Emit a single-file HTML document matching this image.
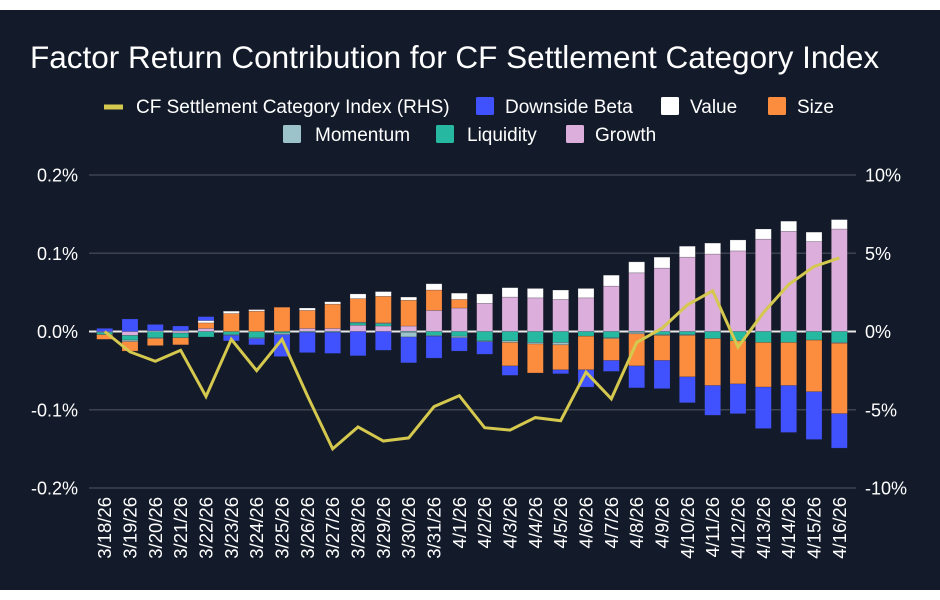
<!DOCTYPE html>
<html><head><meta charset="utf-8">
<style>
html,body{margin:0;padding:0;background:#fff;}
body{width:940px;height:600px;overflow:hidden;font-family:"Liberation Sans",Arial,sans-serif;position:relative;}
#panel{position:absolute;left:0;top:10px;width:940px;height:580px;background:#131a29;}
svg{position:absolute;left:0;top:0;}
</style></head>
<body>
<div id="panel"></div>
<svg id="chart" width="940" height="600"></svg>
<script>
const dates=["3/18/26","3/19/26","3/20/26","3/21/26","3/22/26","3/23/26","3/24/26","3/25/26","3/26/26","3/27/26","3/28/26","3/29/26","3/30/26","3/31/26","4/1/26","4/2/26","4/3/26","4/4/26","4/5/26","4/6/26","4/7/26","4/8/26","4/9/26","4/10/26","4/11/26","4/12/26","4/13/26","4/14/26","4/15/26","4/16/26"];
const growth=[-0.001,-0.005,0,-0.002,0.004,0,0,0,0.004,0.004,0.008,0.007,0.007,0.027,0.030,0.036,0.044,0.043,0.041,0.043,0.058,0.075,0.081,0.095,0.099,0.103,0.118,0.128,0.115,0.131];
const liquidity=[-0.003,-0.006,-0.008,-0.006,-0.007,-0.004,-0.008,-0.002,-0.001,-0.001,0.003,0.003,-0.001,-0.005,-0.006,-0.012,-0.012,-0.014,-0.014,-0.006,-0.008,-0.001,-0.004,-0.004,-0.009,-0.012,-0.014,-0.014,-0.011,-0.014];
const momentum=[0,-0.002,-0.001,0,0,-0.001,-0.001,-0.002,0,0,0.001,0.001,-0.006,-0.001,-0.002,-0.001,-0.002,-0.002,-0.003,0,-0.001,-0.002,-0.001,-0.001,0,0,0,0,0,-0.001];
const size=[-0.006,-0.012,-0.009,-0.009,0.007,0.023,0.026,0.031,0.023,0.031,0.030,0.034,0.033,0.026,0.011,0,-0.030,-0.037,-0.032,-0.043,-0.028,-0.041,-0.032,-0.053,-0.060,-0.055,-0.057,-0.055,-0.066,-0.090];
const value=[0,0,0.001,0.001,0.003,0.003,0.002,0,0.003,0.003,0.006,0.006,0.004,0.008,0.008,0.012,0.012,0.012,0.012,0.012,0.014,0.014,0.014,0.014,0.014,0.014,0.013,0.013,0.012,0.012];
const downsideBeta=[0.004,0.016,0.008,0.006,0.005,-0.007,-0.008,-0.028,-0.026,-0.027,-0.031,-0.024,-0.033,-0.028,-0.017,-0.016,-0.012,0,-0.005,-0.022,-0.014,-0.028,-0.036,-0.033,-0.038,-0.038,-0.053,-0.060,-0.061,-0.044];
const indexReturn=[0,-1.3,-1.9,-1.2,-4.15,-0.5,-2.5,-0.5,-4.1,-7.5,-6.1,-7.0,-6.8,-4.8,-4.1,-6.15,-6.3,-5.5,-5.7,-2.6,-4.3,-0.7,0.2,1.7,2.6,-1.0,1.2,3.0,4.15,4.7];
const leftTicks=[0.2,0.1,0,-0.1,-0.2];
const leftTickLabels=["0.2%","0.1%","0.0%","-0.1%","-0.2%"];
const rightTicks=[10,5,0,-5,-10];
const rightTickLabels=["10%","5%","0%","-5%","-10%"];

const NS="http://www.w3.org/2000/svg";
const svg=document.getElementById('chart');
function el(tag,attrs,parent){const e=document.createElementNS(NS,tag);for(const k in attrs)e.setAttribute(k,attrs[k]);(parent||svg).appendChild(e);return e;}
const plotTop=175,plotBot=488,x0=92,x1=852,gx0=89,gx1=856;
const yL=v=>plotTop+(0.2-v)/0.4*(plotBot-plotTop);
const yR=v=>plotTop+(10-v)/20*(plotBot-plotTop);
const band=(x1-x0)/dates.length;
const xC=i=>x0+band*(i+0.5);
const bw=16;

const t=el('text',{x:30,y:68,fill:'#fff','font-size':'31.5'});t.textContent='Factor Return Contribution for CF Settlement Category Index';



leftTicks.forEach((v,i)=>{
  const g=el('line',{x1:gx0,x2:gx1,y1:yL(v),y2:yL(v),stroke:v===0?'#e8e8e8':'#3c4250','stroke-width':v===0?2:1.5});
  
  
  const l=el('text',{x:78,y:yL(v)+6.5,fill:'#fff','font-size':'18','text-anchor':'end'});l.textContent=leftTickLabels[i];
  
  
});
rightTicks.forEach((v,i)=>{
  const l=el('text',{x:865,y:yR(v)+6.5,fill:'#fff','font-size':'18'});l.textContent=rightTickLabels[i];
  
  
});

const series=[
 {d:growth,c:'#dcaedb',n:'growth'},
 {d:liquidity,c:'#26b8a0',n:'liquidity'},
 {d:momentum,c:'#9cc3c9',n:'momentum'},
 {d:size,c:'#fc8d3f',n:'size'},
 {d:value,c:'#ffffff',n:'value'},
 {d:downsideBeta,c:'#3f52fe',n:'downside-beta'}];
const barsG=el('g',{});
dates.forEach((d,i)=>{
  let pos=0,neg=0;
  series.forEach(s=>{
    const v=s.d[i];if(!v)return;
    let a,b;
    if(v>0){a=pos;b=pos+v;pos=b;}else{a=neg;b=neg+v;neg=b;}
    const ya=yL(a),yb=yL(b);
    const r=el('rect',{x:xC(i)-bw/2,y:Math.min(ya,yb),width:bw,height:Math.abs(yb-ya),fill:s.c,stroke:'rgba(40,40,50,0.35)','stroke-width':0.6},barsG);
    
    
  });
  const lb=el('text',{transform:`translate(${xC(i)+6.5},497) rotate(-90)`,fill:'#fff','font-size':'18.5','text-anchor':'end'});
  lb.textContent=d;
  
  
});

const pts=indexReturn.map((v,i)=>xC(i)+','+yR(v)).join(' ');
const pl=el('polyline',{points:pts,fill:'none',stroke:'#d4c84e','stroke-width':3,'stroke-linejoin':'miter'});



const lg=el('g',{});


function sq(x,y,c,label,tx,name){
  const r=el('rect',{x:x,y:y,width:18,height:18,rx:1.5,fill:c},lg);
  
  
  const tt=el('text',{x:tx,y:y+16,fill:'#fff','font-size':'19'},lg);tt.textContent=label;
  
  
}
const li=el('rect',{x:104,y:104.5,width:19,height:5,fill:'#d4c84e'},lg);


const lt=el('text',{x:136,y:113,fill:'#fff','font-size':'19'},lg);lt.textContent='CF Settlement Category Index (RHS)';


sq(476,97,'#3f52fe','Downside Beta',505,'downside-beta');
sq(661,97,'#ffffff','Value',690,'value');
sq(768,97,'#fc8d3f','Size',797,'size');
sq(283,125,'#9cc3c9','Momentum',315,'momentum');
sq(436,125,'#26b8a0','Liquidity',467,'liquidity');
sq(566,125,'#dcaedb','Growth',595,'growth');
</script>
</body></html>
